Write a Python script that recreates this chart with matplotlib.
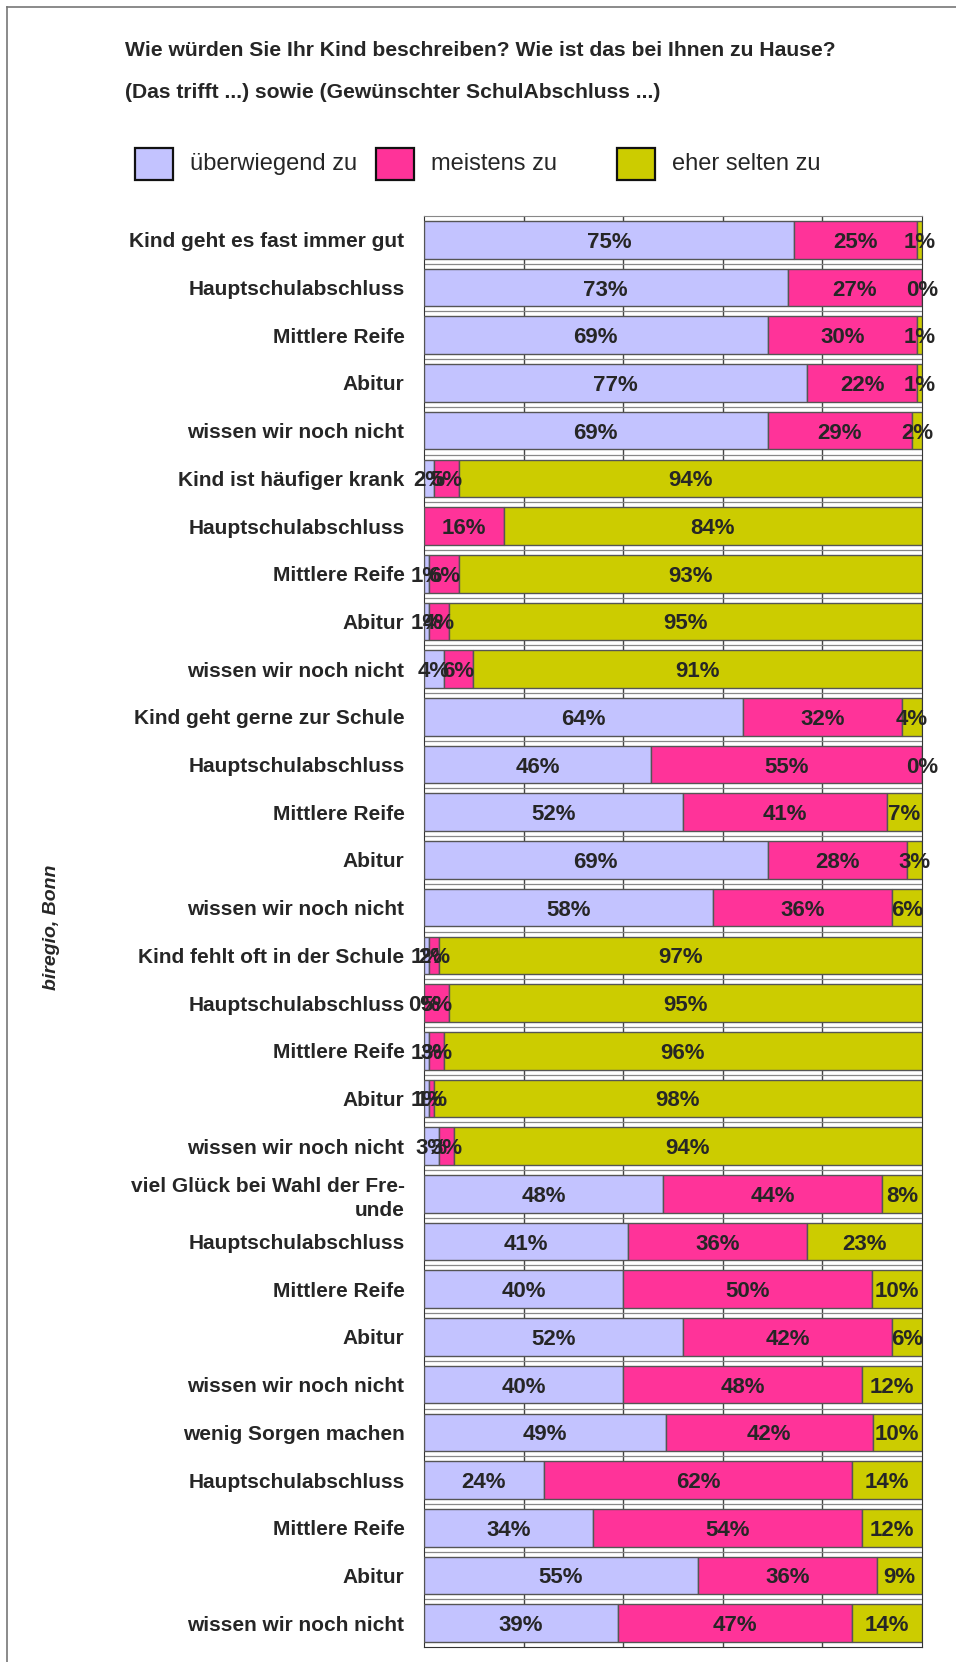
import matplotlib.pyplot as plt
import numpy as np
from matplotlib.patches import Rectangle
from matplotlib.lines import Line2D

plt.rcParams["font.family"] = ["Liberation Sans", "DejaVu Sans"]

W, H = 956, 1662

TITLE = [
    "Wie würden Sie Ihr Kind beschreiben? Wie ist das bei Ihnen zu Hause?",
    "(Das trifft ...) sowie (Gewünschter SchulAbschluss ...)",
]
SOURCE = "biregio, Bonn"

SERIES = ["überwiegend zu", "meistens zu", "eher selten zu"]
COLORS = ["#C3C3FF", "#FF3399", "#CCCC00"]

CATEGORIES = [
    "Kind geht es fast immer gut", "Hauptschulabschluss", "Mittlere Reife",
    "Abitur", "wissen wir noch nicht",
    "Kind ist häufiger krank", "Hauptschulabschluss", "Mittlere Reife",
    "Abitur", "wissen wir noch nicht",
    "Kind geht gerne zur Schule", "Hauptschulabschluss", "Mittlere Reife",
    "Abitur", "wissen wir noch nicht",
    "Kind fehlt oft in der Schule", "Hauptschulabschluss", "Mittlere Reife",
    "Abitur", "wissen wir noch nicht",
    "viel Glück bei Wahl der Fre-\nunde", "Hauptschulabschluss", "Mittlere Reife",
    "Abitur", "wissen wir noch nicht",
    "wenig Sorgen machen", "Hauptschulabschluss", "Mittlere Reife",
    "Abitur", "wissen wir noch nicht",
]

# percentages per answer (nan = no answer given)
ueberwiegend = [75, 73, 69, 77, 69,
                2, np.nan, 1, 1, 4,
                64, 46, 52, 69, 58,
                1, 0, 1, 1, 3,
                48, 41, 40, 52, 40,
                49, 24, 34, 55, 39]
meistens = [25, 27, 30, 22, 29,
            5, 16, 6, 4, 6,
            32, 55, 41, 28, 36,
            2, 5, 3, 1, 3,
            44, 36, 50, 42, 48,
            42, 62, 54, 36, 47]
selten = [1, 0, 1, 1, 2,
          94, 84, 93, 95, 91,
          4, 0, 7, 3, 6,
          97, 95, 96, 98, 94,
          8, 23, 10, 6, 12,
          10, 14, 12, 9, 14]

TEXT_COLOR = "#262626"

fig = plt.figure(figsize=(W / 100, H / 100), dpi=100)

# plot area in pixels
ax_l, ax_r, ax_t, ax_b = 424, 922, 216, 1647
ax = fig.add_axes([ax_l / W, 1 - ax_b / H, (ax_r - ax_l) / W, (ax_b - ax_t) / H])

values = np.array([ueberwiegend, meistens, selten], dtype=float)
shares = np.nan_to_num(values)
shares = shares / shares.sum(axis=0) * 100  # 100% stacked

rows = np.arange(len(CATEGORIES))
left = np.zeros(len(CATEGORIES))
for k, name in enumerate(SERIES):
    ax.barh(rows, shares[k], left=left, height=0.79, color=COLORS[k],
            edgecolor="#555555", linewidth=1.0, zorder=3, label=name)
    for i in rows:
        if np.isnan(values[k, i]):
            continue
        ax.text(left[i] + shares[k, i] / 2, i, "{:.0f}%".format(values[k, i]),
                ha="center", va="center_baseline", fontsize=16,
                fontweight="bold", color=TEXT_COLOR, zorder=5, clip_on=False)
    left += shares[k]

ax.set_xlim(0, 100)
ax.set_ylim(len(CATEGORIES) - 0.5, -0.5)

# grid visible between bars
for x in [20, 40, 60, 80]:
    ax.axvline(x, color="#444444", linewidth=1.0, zorder=1)
for y in rows[:-1] + 0.5:
    ax.axhline(y, color="#888888", linewidth=0.9, zorder=1)

ax.set_xticks([])
ax.set_yticks(rows)
ax.set_yticklabels(CATEGORIES, fontsize=15, fontweight="bold", color=TEXT_COLOR,
                   linespacing=1.35, va="center_baseline")
ax.tick_params(axis="y", length=0, pad=14)
for side in ["left", "right", "bottom"]:
    ax.spines[side].set_color("#333333")
ax.spines["top"].set_color("#888888")

# title
for j, line in enumerate(TITLE):
    fig.text(125 / W, 1 - (51 + 42 * j) / H, line, fontsize=15.2,
             fontweight="bold", color=TEXT_COLOR, va="center", ha="left")

# legend, fixed column positions
for k, name in enumerate(SERIES):
    x0 = 135 + 241 * k
    fig.add_artist(Rectangle((x0 / W, 1 - 180 / H), 38 / W, 32 / H,
                             transform=fig.transFigure, facecolor=COLORS[k],
                             edgecolor="#111111", linewidth=1.6))
    fig.text((x0 + 55) / W, 1 - 164 / H, name, fontsize=17, color=TEXT_COLOR,
             va="center", ha="left")

fig.text(51 / W, 1 - 927 / H, SOURCE, rotation=90, fontsize=14,
         fontweight="bold", fontstyle="italic", color=TEXT_COLOR,
         ha="center", va="center")

# outer frame
fig.add_artist(Line2D([6.5 / W, 6.5 / W], [0, 1 - 6.5 / H], color="#777777",
                      linewidth=1.2, transform=fig.transFigure))
fig.add_artist(Line2D([6.5 / W, 1], [1 - 6.5 / H, 1 - 6.5 / H], color="#777777",
                      linewidth=1.2, transform=fig.transFigure))

fig.savefig("out.png", dpi=100)
